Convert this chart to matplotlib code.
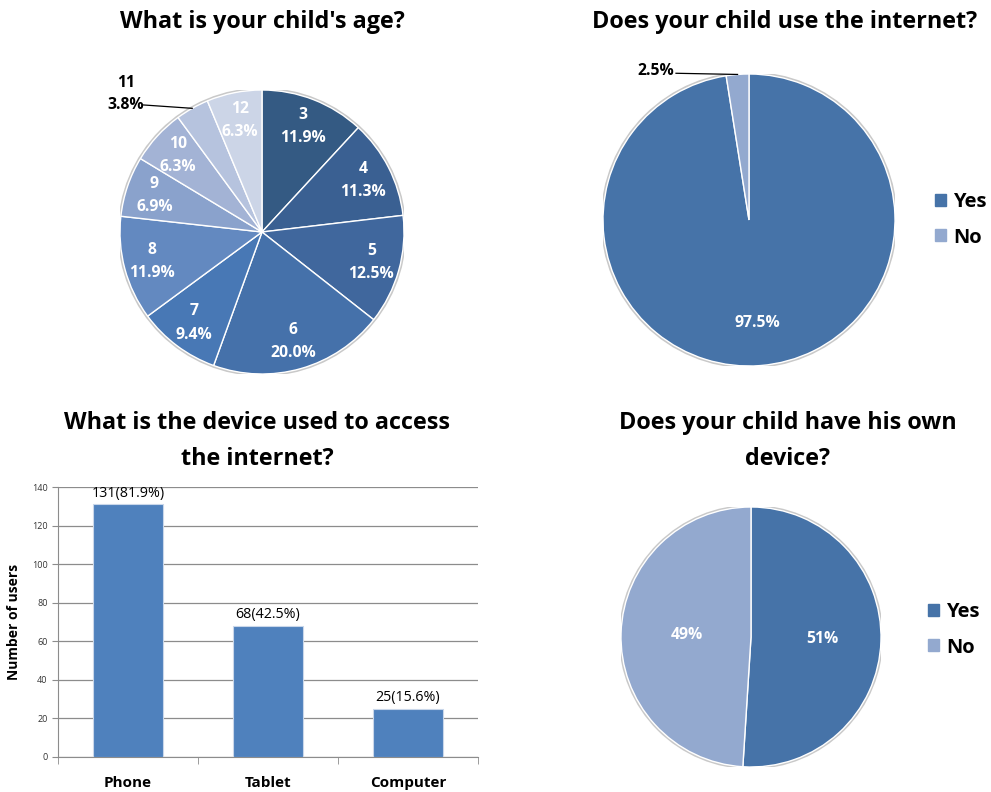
import numpy as np
import matplotlib.pyplot as plt
from matplotlib.patches import Patch, Circle

plt.rcParams['font.family'] = ['Open Sans', 'DejaVu Sans']

# --- survey answers ---
age_labels = ['3', '4', '5', '6', '7', '8', '9', '10', '11', '12']
age_pct = [11.9, 11.3, 12.5, 20.0, 9.4, 11.9, 6.9, 6.3, 3.8, 6.3]
age_colors = ['#345a83', '#3a6092', '#40679d', '#4571aa', '#4878b5',
              '#6389c0', '#8aa2cc', '#a3b3d5', '#b6c3de', '#ccd5e7']

internet_labels = ['Yes', 'No']
internet_pct = [97.5, 2.5]

devices = ['Phone', 'Tablet', 'Computer']
device_users = [131, 68, 25]
device_pct = [81.9, 42.5, 15.6]

own_labels = ['Yes', 'No']
own_pct = [51, 49]

yes_no_colors = ['#4673a8', '#93a9cf']

W, H = 991, 792
fig = plt.figure(figsize=(W / 100, H / 100), dpi=100)


def px_axes(cx, cy, r):
    """square axes centred on pixel (cx, cy) with half-size r"""
    return fig.add_axes([(cx - r) / W, (H - cy - r) / H, 2 * r / W, 2 * r / H])


def title(x, y, s):
    fig.text(x / W, 1 - y / H, s, ha='center', va='center', fontsize=16.8,
             fontweight='bold', linespacing=1.62)


def legend(x, y, labels):
    fig.legend(handles=[Patch(color=c, label=l) for c, l in zip(yes_no_colors, labels)],
               loc='center left', bbox_to_anchor=(x / W, 1 - y / H), frameon=False,
               prop=dict(size=14.5, weight='bold'), handlelength=0.55, handleheight=0.55,
               handletextpad=0.35, labelspacing=0.75, borderpad=0, borderaxespad=0)


def draw_pie(ax, vals, colors):
    ax.add_patch(Circle((0, 0), 1.008, facecolor='none', edgecolor='#c9c9c9',
                        lw=1.6, zorder=0))
    wedges, _ = ax.pie(vals, colors=colors, startangle=90, counterclock=False,
                       wedgeprops=dict(edgecolor='white', linewidth=1))
    ax.set_xlim(-1, 1)
    ax.set_ylim(-1, 1)
    ax.axis('off')
    return wedges


def mid_point(w, d):
    a = np.deg2rad((w.theta1 + w.theta2) / 2)
    return d * np.cos(a), d * np.sin(a)


# child's age
ax1 = px_axes(262, 232, 142)
wedges = draw_pie(ax1, age_pct, age_colors)
for w, lab, p in zip(wedges, age_labels, age_pct):
    if lab == '11':
        x, y = mid_point(w, 1.0)
        ax1.plot([-0.84, x], [0.895, y], color='black', lw=0.9, clip_on=False)
        ax1.text(-0.83, 0.97, f'{lab}\n{p:.1f}%', ha='right', va='center',
                 fontsize=11.3, fontweight='bold', multialignment='center',
                 linespacing=1.5)
        continue
    x, y = mid_point(w, 0.8)
    ax1.text(x, y, f'{lab}\n{p:.1f}%', ha='center', va='center', color='white',
             fontsize=11.3, fontweight='bold', linespacing=1.6)
title(262, 22, "What is your child's age?")

# internet use
ax2 = px_axes(749, 220, 146)
wedges = draw_pie(ax2, internet_pct, yes_no_colors)
x, y = mid_point(wedges[0], 0.71)
ax2.text(x, y, f'{internet_pct[0]:.1f}%', ha='center', va='center',
         color='white', fontsize=11.3, fontweight='bold')
x, y = mid_point(wedges[1], 1.0)
ax2.plot([-0.5, x], [1.005, y], color='black', lw=0.9, clip_on=False)
ax2.text(-0.51, 1.02, f'{internet_pct[1]:.1f}%', ha='right', va='center',
         fontsize=11.3, fontweight='bold')
title(785, 22, 'Does your child use the internet?')
legend(935, 220, internet_labels)

# own device
ax4 = px_axes(751, 637, 130)
wedges = draw_pie(ax4, own_pct, yes_no_colors)
for w, p, d in zip(wedges, own_pct, [0.55, 0.49]):
    x, y = mid_point(w, d)
    ax4.text(x, y, f'{p}%', ha='center', va='center', color='white',
             fontsize=11.3, fontweight='bold')
title(788, 441, 'Does your child have his own\ndevice?')
legend(928, 630, own_labels)

# device bar chart
ax3 = fig.add_axes([58 / W, (H - 757) / H, 420 / W, 270 / H])
xs = np.arange(len(devices))
bars = ax3.bar(xs, device_users, width=0.5, color='#4f81bd', edgecolor='#c9d7ea',
               linewidth=0.8, zorder=3)
for b, n, p in zip(bars, device_users, device_pct):
    ax3.text(b.get_x() + b.get_width() / 2, n + 2, f'{n}({p}%)', ha='center',
             va='bottom', fontsize=10.3)
ax3.set_xlim(-0.5, 2.5)
ax3.set_ylim(0, 140)
ax3.set_yticks(range(0, 141, 20))
ax3.grid(axis='y', color='#8c8c8c', lw=0.9, zorder=0)
ax3.set_xticks(xs)
ax3.set_xticklabels(devices, fontsize=11, fontweight='bold')
ax3.set_xticks([-0.5, 0.5, 1.5, 2.5], minor=True)
ax3.tick_params(axis='x', which='major', length=0, pad=14)
ax3.tick_params(axis='x', which='minor', length=5, color='#8c8c8c')
ax3.tick_params(axis='y', length=4, color='#8c8c8c', labelsize=6.5, labelcolor='#333333')
for s in ['top', 'right']:
    ax3.spines[s].set_visible(False)
for s in ['left', 'bottom']:
    ax3.spines[s].set_color('#8c8c8c')
ax3.set_ylabel('Number of users', fontsize=10, fontweight='bold', labelpad=8)
title(257, 441, 'What is the device used to access\nthe internet?')

fig.savefig('out.png', dpi=100)
